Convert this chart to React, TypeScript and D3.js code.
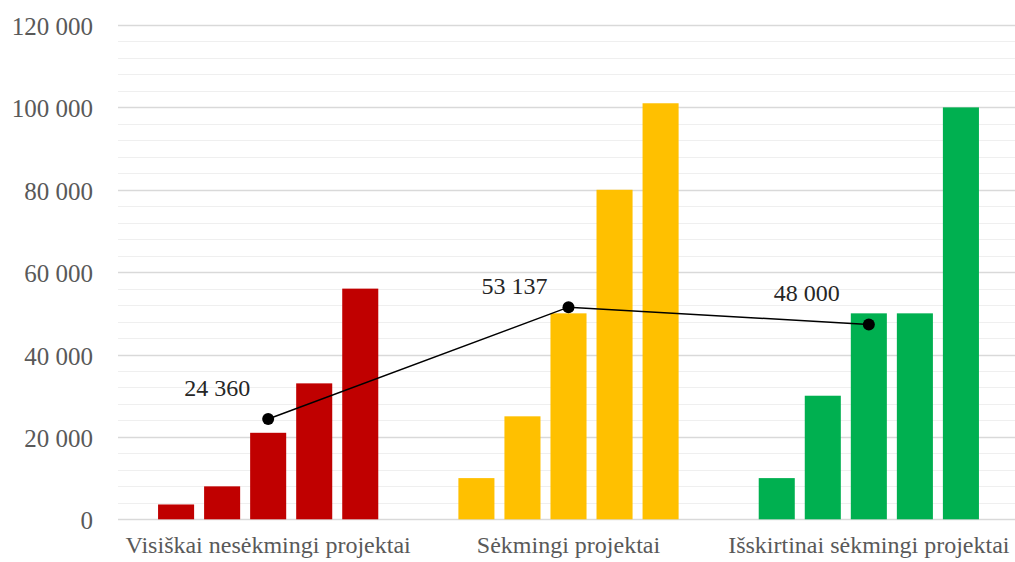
import React from "react";
import * as d3 from "d3";

const categories = ["Visiškai nesėkmingi projektai", "Sėkmingi projektai", "Išskirtinai sėkmingi projektai"];
const colors = ["#C00000", "#FFC000", "#00B050"];
const redValues = [3600, 8000, 21000, 33000, 56000];
const yellowValues = [10000, 25000, 50000, 80000, 101000];
const greenValues = [10000, 30000, 50000, 50000, 100000];
const groupValues = [redValues, yellowValues, greenValues];
const lineValues = [24360, 51500, 47300];
const lineLabels = ["24 360", "53 137", "48 000"];
const yTicks = [0, 20000, 40000, 60000, 80000, 100000, 120000];

const W = 1015;
const H = 562;
const labelOffsets = [[-51, -23], [-54, -13], [-62, -23]];

export default function App() {
  const x = d3.scaleBand<string>().domain(categories).range([118, 1019]).paddingInner(0).paddingOuter(0);
  const y = d3.scaleLinear().domain([0, 120000]).range([519.3, 25]);
  const inner = d3
    .scaleBand<number>()
    .domain(d3.range(5))
    .range([0, x.bandwidth()])
    .paddingInner(0.217)
    .paddingOuter(0.87);
  const minor = d3.range(0, 120001, 4000);
  const fmt = (v: number) => d3.format(",")(v).replace(/,/g, " ");
  const line = d3
    .line<number>()
    .x((_, i) => (x(categories[i]) as number) + x.bandwidth() / 2)
    .y((d) => y(d));

  return (
    <svg width={W} height={H} style={{ position: "absolute", left: 0, top: 0, background: "#fff" }}>
      {minor.map((v) => (
        <line
          key={"g" + v}
          x1={118}
          x2={1019}
          y1={Math.round(y(v)) + 0.5}
          y2={Math.round(y(v)) + 0.5}
          stroke={v % 20000 === 0 ? "#d9d9d9" : "#efefef"}
          strokeWidth={v % 20000 === 0 ? 1.5 : 1}
        />
      ))}
      {yTicks.map((v) => (
        <text
          key={"t" + v}
          x={93}
          y={y(v) + 10}
          textAnchor="end"
          fontFamily="'Liberation Serif', 'Times New Roman', serif"
          fontSize={25}
          fill="#595959"
        >
          {fmt(v)}
        </text>
      ))}
      {categories.map((c, gi) =>
        groupValues[gi].map((v, i) => (
          <rect
            key={c + i}
            x={(x(c) as number) + (inner(i) as number)}
            y={y(v)}
            width={inner.bandwidth()}
            height={y(0) - y(v)}
            fill={colors[gi]}
          />
        ))
      )}
      {categories.map((c) => (
        <text
          key={"c" + c}
          x={(x(c) as number) + x.bandwidth() / 2}
          y={553}
          textAnchor="middle"
          fontFamily="'Liberation Serif', 'Times New Roman', serif"
          fontSize={24}
          fill="#595959"
        >
          {c}
        </text>
      ))}
      <path d={line(lineValues) || ""} fill="none" stroke="#000" strokeWidth={1.5} />
      {lineValues.map((v, i) => {
        const cx = (x(categories[i]) as number) + x.bandwidth() / 2;
        return (
          <g key={"p" + i}>
            <circle cx={cx} cy={y(v)} r={6} fill="#000" />
            <text
              x={cx + labelOffsets[i][0]}
              y={y(v) + labelOffsets[i][1]}
              textAnchor="middle"
              fontFamily="'Liberation Serif', 'Times New Roman', serif"
              fontSize={24}
              fill="#262626"
            >
              {lineLabels[i]}
            </text>
          </g>
        );
      })}
    </svg>
  );
}
